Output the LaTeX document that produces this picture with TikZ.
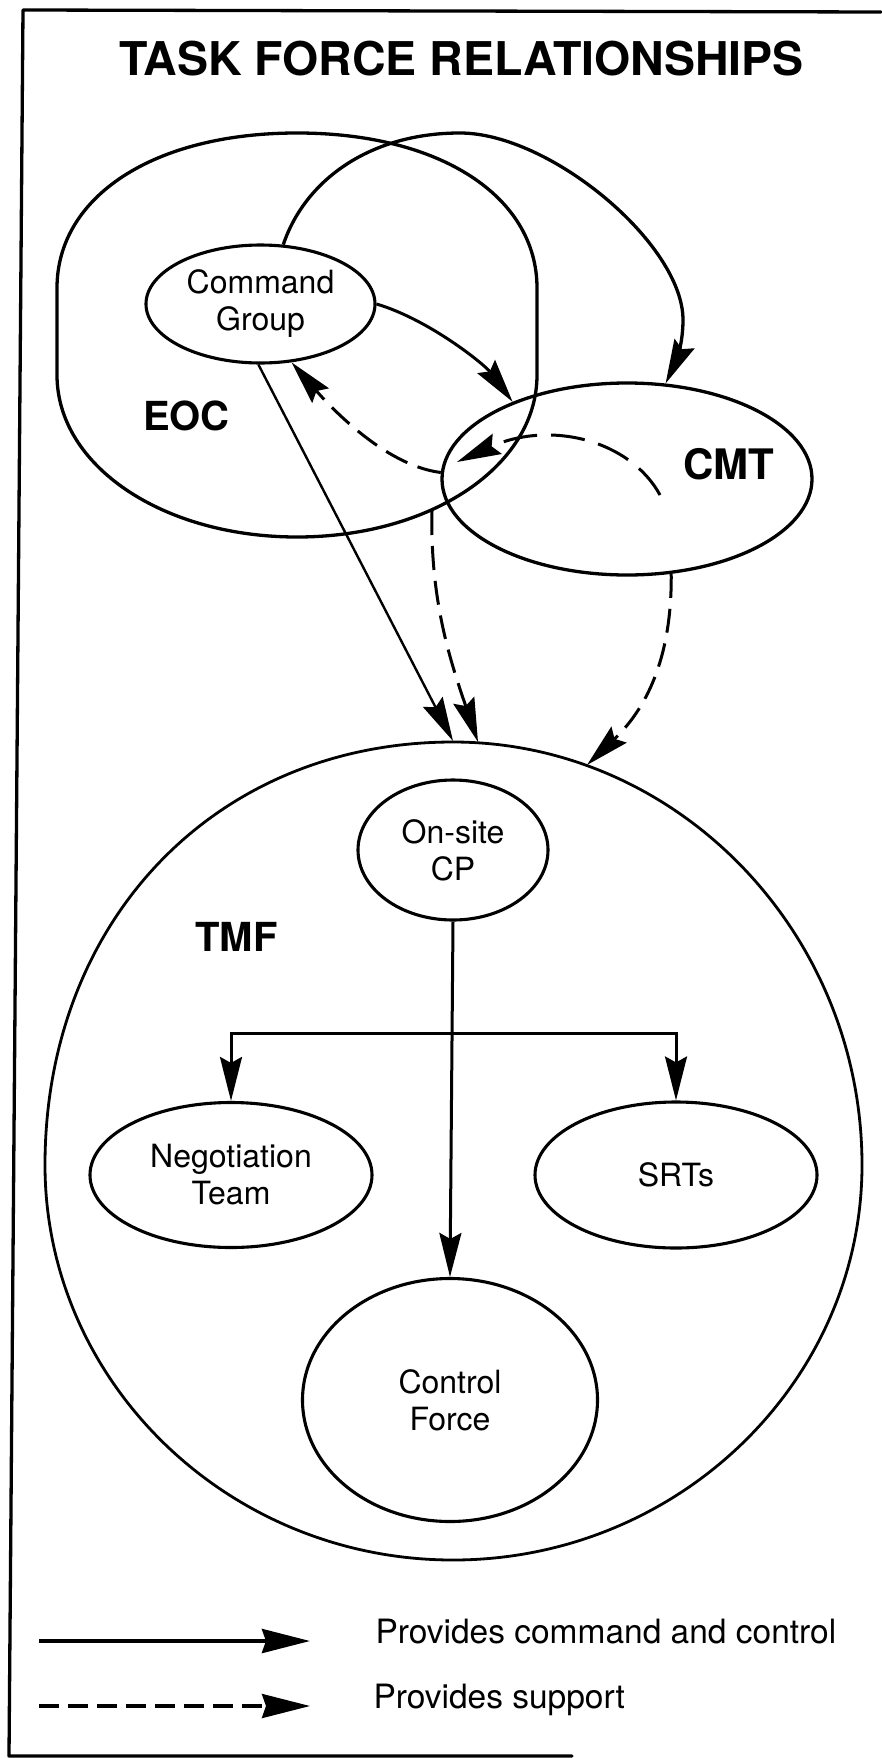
\documentclass[tikz,border=0pt]{standalone}
\usepackage{fontspec}
\setmainfont{TeX Gyre Heros}
\usetikzlibrary{arrows.meta,shapes.geometric}
\begin{document}
\begin{tikzpicture}[x=1pt,y=-1pt,
  shapeline/.style={line width=3.3pt},
  unit/.style={ellipse, draw, line width=3.1pt, inner sep=0pt, align=center, font=\fontsize{32}{37}\selectfont},
  biglabel/.style={font=\bfseries\fontsize{40}{44}\selectfont, anchor=base},
  tipA/.style={-{Stealth[length=44pt,width=22pt,inset=6pt]}},
  ccline/.style={line width=3pt, tipA},
  supline/.style={line width=3pt, dash pattern=on 24pt off 11pt, tipA},
  legendtext/.style={font=\fontsize{33.5}{38}\selectfont, anchor=base west},
  legtip/.style={-{Stealth[length=48pt,width=24pt,inset=4pt]}},
]
\useasboundingbox (0,0) rectangle (881,1758);
% frame
\draw[line width=3.3pt, line cap=round, line join=round] (881,12) -- (23,10) -- (9,1756) -- (572,1756);
% title
\node[font=\bfseries\fontsize{46.5}{50}\selectfont, anchor=base] (title) at (461.5,76) {TASK FORCE RELATIONSHIPS};
% EOC outline
\draw[shapeline] (57,288) .. controls (57,197) and (153,133) .. (297,133)
  .. controls (441,133) and (537,197) .. (537,288) -- (537,375)
  .. controls (537,466) and (431,537) .. (297,537)
  .. controls (163,537) and (57,466) .. (57,375) -- cycle;
\node[biglabel] (eoclabel) at (186.5,430) {EOC};
% Command group and CMT
\node[unit, minimum width=229pt, minimum height=118pt] (cg) at (260.5,304) {Command\\Group};
\node[ellipse, draw, shapeline, minimum width=370pt, minimum height=192pt, inner sep=0pt] (cmt) at (627,479) {};
\node[biglabel, font=\bfseries\fontsize{42}{46}\selectfont] (cmtlabel) at (728.5,479) {CMT};
% big arc from Command Group to CMT
\draw[shapeline, tipA] (cg.69) .. controls (305,180) and (370,133) .. (460,133)
  .. controls (550,133) and (683,244) .. (683,320)
  .. controls (683,350) and (672,370) .. (cmt.68);
% Command Group -> CMT
\draw[ccline] (cg.east) .. controls (430,320) and (485,365) .. (cmt.146);
% CMT -> Command Group (support)
\draw[supline] (cmt.178) .. controls (380,465) and (320,395) .. (cg.-62);
% internal CMT support
\coordinate (cmtin) at (660,495);
\coordinate (cmtinend) at (457,462);
\draw[supline, dash pattern=on 34pt off 14pt] (cmtin) .. controls (630,440) and (550,420) .. (cmtinend);
% TMF outline
\draw[line width=2.8pt] (45,1165) .. controls (45,920) and (216,742) .. (453,742)
  .. controls (677,742) and (862,932) .. (862,1165)
  .. controls (862,1382) and (678,1560) .. (453,1560)
  .. controls (228,1560) and (45,1382) .. (45,1165) -- cycle;
\node[biglabel] (tmflabel) at (236.5,951) {TMF};
\coordinate (tmfA) at (453,741);
\coordinate (tmfB) at (478,742);
\coordinate (tmfC) at (587,765);
\coordinate (eocb) at (432,511);
% connectors into TMF
\draw[ccline, line width=2.4pt] (cg.268) -- (tmfA);
\draw[supline] (eocb) .. controls (430,600) and (450,660) .. (tmfB);
\draw[supline] (cmt.-65) .. controls (672,660) and (645,710) .. (tmfC);
% TMF units
\node[unit, minimum width=190pt, minimum height=140pt] (cp) at (453,850) {On-site\\CP};
\node[unit, minimum width=282pt, minimum height=145pt] (nt) at (231,1175) {Negotiation\\Team};
\node[unit, minimum width=282pt, minimum height=146pt] (srt) at (676,1175) {SRTs};
\node[unit, minimum width=295pt, minimum height=243pt] (cf) at (450,1400) {Control\\Force};
\coordinate (br) at (452,1033);
\draw[ccline] (cp.south) -- (cf.north);
\draw[ccline] (br) -| (nt.north);
\draw[ccline] (br) -| (srt.north);
% legend
\coordinate (la) at (39,1641);
\coordinate (lb) at (310,1641);
\coordinate (lc) at (39,1706);
\coordinate (ld) at (310,1706);
\draw[line width=4pt, legtip] (la) -- (lb);
\draw[line width=3.3pt, dash pattern=on 20pt off 9pt, legtip] (lc) -- (ld);
\node[legendtext] (lt1) at (372,1643) {Provides command and control};
\node[legendtext] (lt2) at (370,1708) {Provides support};
\end{tikzpicture}
\end{document}
